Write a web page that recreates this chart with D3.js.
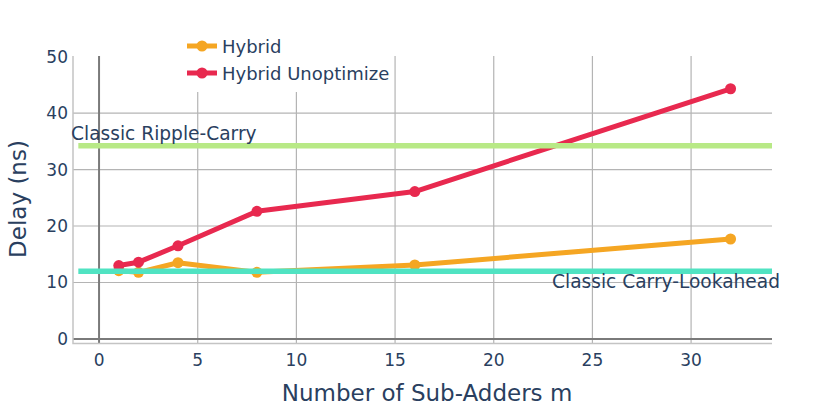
<!DOCTYPE html>
<html>
<head>
<meta charset="utf-8">
<script src="https://cdn.jsdelivr.net/npm/d3@7"></script>
<style>
  body { margin: 0; background: #fff; }
  text { font-family: "DejaVu Sans", Verdana, sans-serif; fill: #2a3f5f; }
</style>
</head>
<body>
<svg id="chart" width="819" height="411"></svg>
<script>
// data
var subAdders = [1, 2, 4, 8, 16, 32];
var hybrid = [12.1, 11.8, 13.5, 11.8, 13.1, 17.7];
var hybridUnopt = [13.0, 13.6, 16.5, 22.6, 26.1, 44.3];
var rippleCarry = 34.2;
var carryLookahead = 12.0;
var xTicks = [0, 5, 10, 15, 20, 25, 30];
var yTicks = [0, 10, 20, 30, 40, 50];

var svg = d3.select("#chart");

var pLeft = 73, pRight = 772, pTop = 56, pBottom = 343.5;

var x = d3.scaleLinear().domain([-1.32, 34.1]).range([pLeft, pRight]);
var y = d3.scaleLinear().domain([-0.8, 50.1]).range([pBottom, pTop]);

svg.append("defs").append("clipPath").attr("id", "plotclip")
  .append("rect").attr("x", pLeft).attr("y", pTop)
  .attr("width", pRight - pLeft).attr("height", pBottom - pTop);

// grid
var grid = svg.append("g");
grid.selectAll(".vg").data(xTicks.filter(function(d) { return d !== 0; }))
  .enter().append("line")
    .attr("x1", function(d) { return x(d); }).attr("x2", function(d) { return x(d); })
    .attr("y1", pTop).attr("y2", pBottom)
    .attr("stroke", "#b4b4b4").attr("stroke-width", 1.2);
grid.selectAll(".hg").data(yTicks.filter(function(d) { return d !== 0 && d !== 50; }))
  .enter().append("line")
    .attr("x1", pLeft).attr("x2", pRight)
    .attr("y1", function(d) { return y(d); }).attr("y2", function(d) { return y(d); })
    .attr("stroke", "#b4b4b4").attr("stroke-width", 1.2);

// zero lines
svg.append("line").attr("x1", x(0)).attr("x2", x(0)).attr("y1", pTop).attr("y2", pBottom)
  .attr("stroke", "#7a7a7a").attr("stroke-width", 2);
svg.append("line").attr("x1", pLeft).attr("x2", pRight).attr("y1", y(0)).attr("y2", y(0))
  .attr("stroke", "#7a7a7a").attr("stroke-width", 2);

// axis lines
svg.append("path")
  .attr("d", "M" + pLeft + "," + pTop + "V" + pBottom + "H" + pRight)
  .attr("fill", "none").attr("stroke", "#c4c4c4").attr("stroke-width", 1.5);

// tick labels
svg.selectAll(".xt").data(xTicks).enter().append("text")
  .attr("x", function(d) { return x(d); }).attr("y", 366)
  .attr("text-anchor", "middle").style("font-size", "17px")
  .text(function(d) { return d; });
svg.selectAll(".yt").data(yTicks).enter().append("text")
  .attr("x", 68).attr("y", function(d) { return y(d) + 6; })
  .attr("text-anchor", "end").style("font-size", "17px")
  .text(function(d) { return d; });

// axis titles
svg.append("text").attr("x", 427).attr("y", 401)
  .attr("text-anchor", "middle").style("font-size", "23px")
  .text("Number of Sub-Adders m");
svg.append("text").attr("transform", "translate(26,199) rotate(-90)")
  .attr("text-anchor", "middle").style("font-size", "23px")
  .text("Delay (ns)");

// plotted stuff
var plot = svg.append("g").attr("clip-path", "url(#plotclip)");

var line = d3.line()
  .x(function(d) { return x(d[0]); })
  .y(function(d) { return y(d[1]); });

function drawSeries(vals, color) {
  var pts = subAdders.map(function(m, i) { return [m, vals[i]]; });
  plot.append("path").datum(pts)
    .attr("d", line).attr("fill", "none")
    .attr("stroke", color).attr("stroke-width", 5)
    .attr("stroke-linejoin", "round");
  plot.selectAll(null).data(pts).enter().append("circle")
    .attr("cx", function(d) { return x(d[0]); })
    .attr("cy", function(d) { return y(d[1]); })
    .attr("r", 5.5).attr("fill", color);
}

drawSeries(hybrid, "#f5a623");
drawSeries(hybridUnopt, "#e8294f");

// reference levels
plot.append("line").attr("x1", x(-1.05)).attr("x2", x(40))
  .attr("y1", y(rippleCarry)).attr("y2", y(rippleCarry))
  .attr("stroke", "#b8e986").attr("stroke-width", 5.5);
plot.append("line").attr("x1", x(-1.05)).attr("x2", x(40))
  .attr("y1", y(carryLookahead)).attr("y2", y(carryLookahead))
  .attr("stroke", "#50e3c2").attr("stroke-width", 5.5);

svg.append("text").attr("x", 71).attr("y", 140)
  .style("font-size", "18.6px").text("Classic Ripple-Carry");
svg.append("text").attr("x", 780).attr("y", 288)
  .attr("text-anchor", "end").style("font-size", "18.6px")
  .text("Classic Carry-Lookahead");

// legend
svg.select("defs").append("clipPath").attr("id", "legclip")
  .append("rect").attr("x", 182).attr("y", 30).attr("width", 208).attr("height", 62);
var legend = svg.append("g").attr("clip-path", "url(#legclip)");
legend.append("rect").attr("x", 182).attr("y", 30).attr("width", 212).attr("height", 62)
  .attr("fill", "#fff");
var legItems = [["Hybrid", "#f5a623"], ["Hybrid Unoptimized", "#e8294f"]];
var li = legend.selectAll("g").data(legItems).enter().append("g")
  .attr("transform", function(d, i) { return "translate(0," + (46 + i * 27) + ")"; });
li.append("line").attr("x1", 187).attr("x2", 217).attr("y1", 0).attr("y2", 0)
  .attr("stroke", function(d) { return d[1]; }).attr("stroke-width", 5);
li.append("circle").attr("cx", 202).attr("cy", 0).attr("r", 5.5)
  .attr("fill", function(d) { return d[1]; });
li.append("text").attr("x", 222).attr("y", 6.5)
  .style("font-size", "18px").text(function(d) { return d[0]; });
</script>
</body>
</html>
